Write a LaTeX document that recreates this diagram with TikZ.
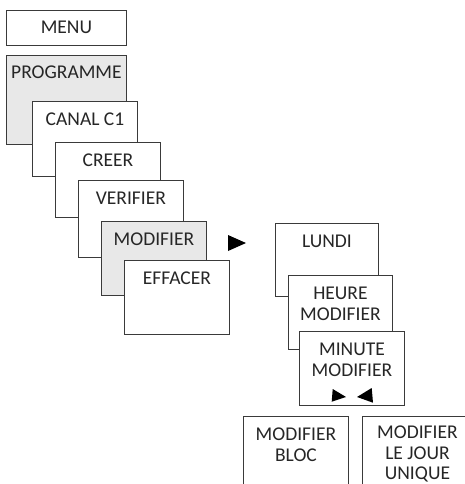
\documentclass[tikz,border=0pt]{standalone}
\usepackage{fontspec}
\setmainfont{Carlito}
\definecolor{edge}{HTML}{3A3A3A}
\definecolor{shade}{HTML}{E8E8E8}
\begin{document}
\begin{tikzpicture}[x=1pt,y=-1pt,
  box/.style={draw=edge,line width=0.9pt,fill=white,anchor=north west,inner sep=0pt,
    minimum width=#1},
  box/.default=105pt,
  grey/.style={fill=shade},
  lbl/.style={anchor=base,inner sep=0pt,align=center,text=black!85,
    font=\fontsize{19.5}{21.5}\selectfont},
  tri/.style={fill=black,draw=none}]
\useasboundingbox (0,0) rectangle (465,484);
\clip (0,0) rectangle (465,484);
% left column
\node[box=120pt,minimum height=35pt] (menu) at (6,10) {};
\node[lbl] at ([yshift=-24pt]menu.north) {MENU};
\node[box=120pt,grey,minimum height=89pt] (prog) at (6,55) {};
\node[lbl] at ([yshift=-24pt]prog.north) {PROGRAMME};
\node[box,minimum height=75pt] (canal) at (32,101) {};
\node[lbl] at ([yshift=-24pt]canal.north) {CANAL C1};
\node[box,minimum height=75pt] (creer) at (55,142) {};
\node[lbl] at ([yshift=-24pt]creer.north) {CREER};
\node[box,minimum height=77pt] (verif) at (78,180) {};
\node[lbl] at ([yshift=-24pt]verif.north) {VERIFIER};
\node[box,grey,minimum height=74pt] (modif) at (101,221) {};
\node[lbl] at ([yshift=-24pt]modif.north) {MODIFIER};
\node[box,minimum height=74pt] (eff) at (124,260) {};
\node[lbl] at ([yshift=-24pt]eff.north) {EFFACER};
\path[tri] (228,235) -- (228,251) -- (246,243) -- cycle;
% right column
\node[box=103pt,minimum height=73pt] (lundi) at (275,223) {};
\node[lbl] at ([yshift=-24pt]lundi.north) {LUNDI};
\node[box=104pt,minimum height=74pt] (heure) at (288,275) {};
\node[lbl] at ([yshift=-45.5pt]heure.north) {HEURE\\MODIFIER};
\node[box,minimum height=74pt] (minute) at (299,331) {};
\node[lbl] at ([yshift=-45.5pt]minute.north) {MINUTE\\MODIFIER};
\path[tri] (332.7,389) -- (331.7,401.7) -- (346,397) -- cycle;
\path[tri] (371.7,388) -- (373,402.7) -- (357,397) -- cycle;
% bottom
\node[box,minimum height=90pt] (bloc) at (243,416) {};
\node[lbl] at ([yshift=-45.5pt]bloc.north) {MODIFIER\\BLOC};
\node[box,minimum height=90pt] (jour) at (362,416) {};
\node[lbl,font=\fontsize{19.5}{20.5}\selectfont] at ([yshift=-63.5pt,xshift=2.5pt]jour.north) {MODIFIER\\LE JOUR\\UNIQUE};
\end{tikzpicture}
\end{document}
